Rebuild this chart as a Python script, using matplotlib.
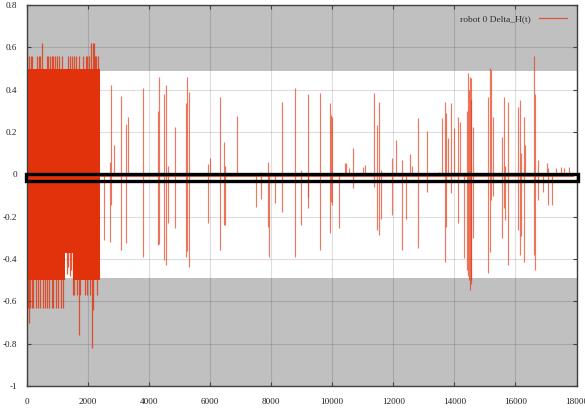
import matplotlib
matplotlib.use("Agg")
import matplotlib.pyplot as plt
from matplotlib.patches import Rectangle
from matplotlib.lines import Line2D

# ---------------- data ----------------
series_label = "robot 0 Delta_H(t)"

# dense oscillating block at the start (column edges, top / bottom envelope)
block_edges_x = [0, 1250, 1500, 2400]
block_top = [0.50, 0.50, 0.50]
block_bottom = [-0.50, -0.37, -0.50]

# upward excursions inside the dense block
dense_up_x = [11, 55, 120, 153, 339, 394, 426, 481, 645, 700, 754, 809, 863, 918,
              995, 1060, 1137, 1355, 1410, 1465, 1541, 1607, 1705, 1847, 1924,
              1978, 2044, 2088, 2153, 2208, 2219, 2262, 2317]
dense_up_y = [0.56, 0.56, 0.56, 0.56, 0.56, 0.56, 0.56, 0.62, 0.56, 0.56, 0.56,
              0.56, 0.56, 0.56, 0.56, 0.56, 0.56, 0.56, 0.56, 0.56, 0.56, 0.56,
              0.56, 0.56, 0.56, 0.56, 0.56, 0.62, 0.62, 0.62, 0.56, 0.56, 0.56]

# downward excursions inside the dense block
dense_down_x = [33, 55, 109, 153, 208, 295, 372, 426, 514, 590, 645, 732, 809,
                863, 951, 1028, 1104, 1170, 1300, 1350, 1400, 1440, 1498, 1541,
                1629, 1716, 1738, 1902, 1978, 2066, 2131, 2175, 2284]
dense_down_y = [-0.63, -0.70, -0.63, -0.63, -0.63, -0.63, -0.63, -0.63, -0.63,
                -0.63, -0.63, -0.63, -0.63, -0.63, -0.63, -0.63, -0.63, -0.63,
                -0.47, -0.44, -0.48, -0.45, -0.57, -0.57, -0.57, -0.76, -0.57,
                -0.57, -0.57, -0.57, -0.82, -0.64, -0.57]

# isolated spikes afterwards: position, maximum, minimum
spike_x = [2525, 2711, 2765, 2842, 3072, 3236, 3312, 3804, 4296, 4339, 4492,
           4548, 4623, 4842, 5192, 5236, 5302, 5935, 5985, 6329, 6438, 6470,
           6864, 7499, 7663, 7881, 7935, 8122, 8340, 8788, 8990, 9192, 9220,
           9608, 9913, 9958, 9990, 10208, 10427, 10450, 10560, 10679, 11000,
           11080, 11355, 11466, 11532, 11600, 11968, 12100, 12296, 12406,
           12560, 12620, 12811, 13106, 13500, 13598, 13685, 13740, 13800,
           13904, 13991, 14122, 14198, 14307, 14420, 14451, 14480, 14504,
           14530, 14559, 14600, 15116, 15160, 15214, 15250, 15575, 15630,
           15660, 15772, 16100, 16144, 16180, 16275, 16300, 16615, 16648,
           16723, 16887, 17018, 17060, 17192, 17324, 17500, 17590, 17740]
spike_top = [0.0, 0.06, 0.42, 0.14, 0.37, 0.24, 0.27, 0.41, 0.30, 0.46, 0.38,
             0.42, 0.04, 0.225, 0.335, 0.46, 0.39, 0.05, 0.075, 0.364, 0.154,
             0.04, 0.275, 0.0, 0.01, 0.06, 0.0, 0.0, 0.343, 0.41, 0.02, 0.38,
             0.0, 0.382, 0.335, 0.28, 0.27, 0.0, 0.055, 0.052, 0.03, 0.123,
             0.036, 0.045, 0.382, 0.233, 0.343, 0.02, 0.075, 0.162, 0.07, 0.0,
             0.096, 0.04, 0.264, 0.206, 0.01, 0.264, 0.343, 0.288, 0.17, 0.335,
             0.217, 0.272, 0.249, 0.0, 0.30, 0.477, 0.40, 0.46, 0.35, 0.453,
             0.225, 0.367, 0.50, 0.493, 0.27, 0.178, 0.367, 0.04, 0.343, 0.32,
             0.351, 0.10, 0.272, 0.14, 0.56, 0.38, 0.07, 0.0, 0.052, 0.03, 0.0,
             0.028, 0.033, 0.03, 0.035]
spike_bottom = [-0.31, -0.32, -0.145, 0.0, -0.358, -0.326, 0.0, -0.39, -0.334,
                -0.33, -0.405, -0.43, -0.23, -0.255, -0.39, -0.36, -0.44, -0.23,
                0.0, -0.358, -0.24, -0.24, 0.0, -0.153, -0.118, -0.247, -0.39,
                -0.137, -0.177, -0.39, -0.24, -0.16, -0.105, -0.358, -0.279,
                -0.13, -0.145, -0.255, 0.0, 0.0, 0.0, -0.066, 0.0, 0.0, -0.06,
                -0.263, -0.287, -0.21, -0.192, 0.0, -0.358, -0.213, 0.0, 0.0,
                -0.35, -0.082, 0.0, 0.0, -0.413, -0.25, 0.0, -0.09, 0.0, -0.23,
                0.0, -0.397, -0.45, -0.48, -0.50, -0.546, -0.52, -0.5, -0.3,
                -0.468, -0.365, -0.12, -0.10, -0.302, -0.16, -0.215, -0.43,
                -0.263, -0.381, -0.29, -0.413, -0.0, -0.38, -0.452, -0.12,
                -0.082, 0.0, -0.145, -0.145, 0.0, 0.0, 0.0, 0.0]

# near-zero signal between the spikes
base_x = [2400, 17880]
base_y = [-0.008, -0.008]

x_ticks = [0, 2000, 4000, 6000, 8000, 10000, 12000, 14000, 16000, 18000]
y_ticks = [-1, -0.8, -0.6, -0.4, -0.2, 0, 0.2, 0.4, 0.6, 0.8]
y_tick_labels = ["-1", "-0.8", "-0.6", "-0.4", "-0.2", "0", "0.2", "0.4", "0.6", "0.8"]

# ---------------- styling ----------------
RED = "#e2320c"
GRAY_BG = "#c0c0c0"
FONT = ["Liberation Serif", "DejaVu Serif"]

fig = plt.figure(figsize=(5.85, 4.13), dpi=100)
fig.patch.set_facecolor("white")
ax = fig.add_axes([27 / 585, 1 - 386 / 413, 549.5 / 585, 381 / 413])
ax.set_facecolor(GRAY_BG)
ax.axhspan(-0.49, 0.49, color="white", zorder=0.5, lw=0)

ax.set_xlim(0, 18000)
ax.set_ylim(-1, 0.8)
ax.set_xticks(x_ticks)
ax.set_xticklabels([str(v) for v in x_ticks], family=FONT, fontsize=6.6)
ax.set_yticks(y_ticks)
ax.set_yticklabels(y_tick_labels, family=FONT, fontsize=6.6)
ax.tick_params(axis="both", direction="in", length=3, width=0.8, color="#404040",
               top=True, right=True, labelcolor="#202020")
ax.tick_params(axis="x", pad=9)
ax.tick_params(axis="y", pad=7)
ax.grid(True, color="black", alpha=0.13, lw=0.8, zorder=0.8)
ax.set_axisbelow(True)
for s in ax.spines.values():
    s.set_color("#404040")
    s.set_linewidth(1.0)

# dense block
for i in range(len(block_top)):
    ax.fill_between([block_edges_x[i], block_edges_x[i + 1]], block_bottom[i], block_top[i],
                    color=RED, lw=0, zorder=2)
ax.vlines(dense_up_x, 0, dense_up_y, color=RED, lw=0.9, alpha=0.8, zorder=2)
ax.vlines(dense_down_x, 0, dense_down_y, color=RED, lw=0.9, alpha=0.8, zorder=2)

# sparse part
ax.plot(base_x, base_y, color=RED, lw=0.8, alpha=0.7, zorder=2)
ax.vlines(spike_x, spike_bottom, spike_top, color=RED, lw=0.85, alpha=0.65, zorder=2)

# legend
handle = Line2D([], [], color=RED, lw=0.9, alpha=0.75)
leg = ax.legend([handle], [series_label], loc="upper right", frameon=False,
                markerfirst=False, handlelength=3.0, borderaxespad=0.6,
                prop={"family": FONT, "size": 6.8})
for t in leg.get_texts():
    t.set_color("#303030")

# black highlight box around zero
rect = Rectangle((-45, -0.031), 18090, 0.031, fill=False, edgecolor="black",
                 lw=2.4, zorder=5, clip_on=False)
ax.add_patch(rect)

fig.savefig("out.png", dpi=100)
